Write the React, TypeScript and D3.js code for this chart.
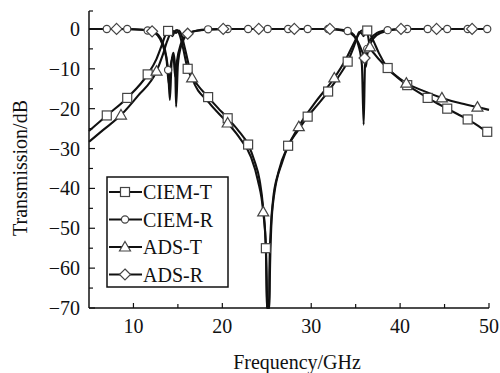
import React from "react";
import * as d3 from "d3";

type P = [number, number];

const xTicks = [10, 20, 30, 40, 50];
const xMinor = [15, 25, 35, 45];
const yTicks = [0, -10, -20, -30, -40, -50, -60, -70];
const yMinor = [-5, -15, -25, -35, -45, -55, -65];

const ciemT: P[] = [
  [5, -25.6], [7.0, -21.7], [9.3, -17.3], [11.6, -11.4], [12.6, -7.5], [13.2, -4], [13.6, -1.5],
  [13.9, -0.5], [14.2, -1.2], [14.4, -1.8], [14.6, -0.8], [14.9, -0.3], [15.2, -1.5], [15.6, -5],
  [16.1, -10], [17.2, -14], [18.4, -17.1], [19.5, -19.8], [20.6, -22.4], [21.8, -25.5], [22.9, -29],
  [23.6, -33], [24.2, -38], [24.6, -45], [24.9, -55], [25.0, -63], [25.05, -70], [25.25, -70],
  [25.3, -60], [25.45, -50], [25.7, -43], [26.3, -36], [27.4, -29.3], [28.5, -25.5], [29.6, -22], [30.8, -18.8],
  [31.9, -15.7], [33.0, -12.2], [34.1, -8.2], [34.7, -5], [35.1, -2.5], [35.4, -0.8], [35.7, -1.2],
  [35.9, -1.8], [36.1, -0.8], [36.3, -0.4], [36.6, -1.2], [37.0, -3], [37.6, -6], [38.6, -9.8],
  [39.7, -12.2], [40.8, -14.1], [42.0, -15.8], [43.1, -17.3], [44.2, -18.7], [45.3, -20],
  [46.5, -21.4], [47.6, -22.7], [48.7, -24.2], [49.8, -25.8], [50, -26],
];
const ciemTMarks: P[] = [
  [7.0, -21.7], [9.3, -17.3], [11.6, -11.4], [13.9, -0.5], [16.1, -10], [18.4, -17.1], [20.6, -22.4],
  [22.9, -29], [24.9, -55], [27.4, -29.3], [29.6, -22], [31.9, -15.7], [34.1, -8.2], [36.3, -0.4],
  [38.6, -9.8], [40.8, -14.1], [43.1, -17.3], [45.3, -20], [47.6, -22.7], [49.8, -25.8],
];

const ciemR: P[] = [
  [5, 0], [7.0, 0], [9.3, 0], [11.0, -0.2], [11.6, -0.4], [12.4, -1], [13.0, -2.5], [13.5, -5.5],
  [13.9, -10.3], [14.1, -17.8], [14.3, -8], [14.5, -6], [14.7, -10], [14.8, -19.5], [15.0, -9],
  [15.4, -4], [16.1, -1.3], [17.0, -0.5], [18.4, -0.1], [20.6, 0], [22.9, 0], [25.1, 0], [27.4, 0],
  [29.6, 0], [31.9, 0], [33.0, -0.1], [34.1, -0.5], [34.8, -1.5], [35.3, -4], [35.7, -9],
  [35.9, -24], [36.05, -9], [36.3, -5], [36.7, -2.5], [37.4, -1], [38.6, -0.3], [40.8, 0],
  [43.1, 0], [45.3, 0], [47.6, 0], [49.8, 0], [50, 0],
];
const ciemRMarks: P[] = [
  [7.0, 0], [9.3, 0], [11.6, -0.4], [13.9, -10.3], [16.1, -1.3], [18.4, -0.1], [20.6, 0], [22.9, 0],
  [25.1, 0], [27.4, 0], [29.6, 0], [31.9, 0], [34.1, -0.5], [36.3, -5], [38.6, -0.3], [40.8, 0],
  [43.1, 0], [45.3, 0], [47.6, 0], [49.8, 0],
];

const adsT: P[] = [
  [5, -28.3], [6.5, -25.5], [8.6, -21.6], [10.5, -16.8], [12.6, -10.6], [13.3, -6.5], [13.8, -3],
  [14.2, -1], [14.5, -0.5], [14.8, -1], [15.1, -0.4], [15.4, -1.5], [15.8, -5], [16.6, -12.3],
  [18.5, -18.5], [20.6, -23.6], [22.0, -27.5], [23.2, -32], [24.0, -38], [24.6, -45.9], [24.9, -55],
  [25.0, -70], [25.3, -70], [25.35, -62], [25.5, -50], [25.8, -42], [26.8, -33], [28.6, -24.5],
  [30.6, -18], [32.6, -12.3], [33.8, -8], [34.7, -4], [35.3, -1.5], [35.7, -0.4], [36.0, -0.8],
  [36.3, -1], [36.6, -4.5], [37.2, -6.5], [38.2, -9], [39.3, -11.3], [40.7, -13.6], [42.7, -15.6],
  [44.7, -17.3], [46.7, -18.6], [48.7, -19.6], [50, -20.3],
];
const adsTMarks: P[] = [
  [8.6, -21.6], [12.6, -10.6], [16.6, -12.3], [20.6, -23.6], [24.6, -45.9], [28.6, -24.5],
  [32.6, -12.3], [36.6, -4.5], [40.7, -13.6], [44.7, -17.3], [48.7, -19.6],
];

const adsR: P[] = [
  [5, 0], [8.1, 0], [11.0, -0.2], [12.1, -0.6], [12.8, -1.5], [13.3, -3.5], [13.7, -7], [14.0, -14],
  [14.2, -9], [14.5, -7], [14.7, -12], [14.9, -8], [15.3, -4], [16.1, -1.2], [17.2, -0.4], [20.1, 0],
  [24.1, 0], [28.1, 0], [32.1, 0], [33.5, -0.4], [34.5, -1.2], [35.2, -3], [35.7, -5.5], [36.0, -7.3],
  [36.15, -9.5], [36.3, -6.5], [36.7, -3.5], [37.4, -1.5], [38.5, -0.5], [40.1, 0], [44.1, 0],
  [48.1, 0], [50, 0],
];
const adsRMarks: P[] = [
  [8.1, 0], [12.1, -0.6], [16.1, -1.2], [20.1, 0], [24.1, 0], [28.1, 0], [32.1, 0], [36.0, -7.3],
  [40.1, 0], [44.1, 0], [48.1, 0],
];

const legendLabels = ["CIEM-T", "CIEM-R", "ADS-T", "ADS-R"];

const FONT = "'Liberation Serif', 'Times New Roman', serif";

function Marker({ kind, x, y }: { kind: string; x: number; y: number }) {
  const st = { fill: "#fff", stroke: "#444", strokeWidth: 1.2 };
  if (kind === "square") return <rect x={x - 4.5} y={y - 4.5} width={9} height={9} {...st} />;
  if (kind === "circle") return <circle cx={x} cy={y} r={3.6} {...st} />;
  if (kind === "triangle")
    return <path d={`M${x},${y - 5.5}L${x + 5.5},${y + 4}L${x - 5.5},${y + 4}Z`} {...st} />;
  return <path d={`M${x},${y - 5.5}L${x + 5.5},${y}L${x},${y + 5.5}L${x - 5.5},${y}Z`} {...st} />;
}

export default function App() {
  const x = d3.scaleLinear().domain([5, 50]).range([89, 489]);
  const y = d3.scaleLinear().domain([-70, 4.5]).range([308, 11]);
  const line = d3
    .line<P>()
    .x((d) => x(d[0]))
    .y((d) => y(d[1]))
    .curve(d3.curveMonotoneX);

  const series = [
    { data: ciemT, marks: ciemTMarks, kind: "square" },
    { data: ciemR, marks: ciemRMarks, kind: "circle" },
    { data: adsT, marks: adsTMarks, kind: "triangle" },
    { data: adsR, marks: adsRMarks, kind: "diamond" },
  ];

  const lx = 107, ly = 177, lw = 121, lh = 110;
  const entryY = [192, 219.5, 247, 274.5];

  return (
    <svg
      width={500}
      height={373}
      style={{ position: "absolute", left: 0, top: 0, background: "#fff" }}
      fontFamily={FONT}
    >
      <rect x={0} y={0} width={500} height={373} fill="#fff" />
      {series.map((s, i) => (
        <path key={i} d={line(s.data) || ""} fill="none" stroke="#111" strokeWidth={2.1} strokeLinejoin="round" />
      ))}
      {series.map((s, i) =>
        s.marks.map((m, j) => <Marker key={`${i}-${j}`} kind={s.kind} x={x(m[0])} y={y(m[1])} />)
      )}
      <line x1={89} x2={89} y1={y(4.5)} y2={y(-70)} stroke="#111" strokeWidth={1.5} />
      <line x1={89} x2={93} y1={y(4.5)} y2={y(4.5)} stroke="#111" strokeWidth={1.2} />
      <line x1={89} x2={489} y1={y(-70)} y2={y(-70)} stroke="#111" strokeWidth={1.5} />
      {yTicks.map((t) => (
        <g key={`yt${t}`}>
          <line x1={89} x2={95} y1={y(t)} y2={y(t)} stroke="#111" strokeWidth={1.2} />
          <text x={80} y={y(t)} textAnchor="end" dominantBaseline="central" fontSize={20} fill="#111">
            {t < 0 ? `\u2212${Math.abs(t)}` : `${t}`}
          </text>
        </g>
      ))}
      {yMinor.map((t) => (
        <line key={`ym${t}`} x1={89} x2={93} y1={y(t)} y2={y(t)} stroke="#111" strokeWidth={1.2} />
      ))}
      {xTicks.map((t) => (
        <g key={`xt${t}`}>
          <line x1={x(t)} x2={x(t)} y1={308} y2={303} stroke="#111" strokeWidth={1.2} />
          <text x={x(t)} y={326} textAnchor="middle" dominantBaseline="central" fontSize={20} fill="#111">
            {t}
          </text>
        </g>
      ))}
      {xMinor.map((t) => (
        <line key={`xm${t}`} x1={x(t)} x2={x(t)} y1={308} y2={304} stroke="#111" strokeWidth={1.2} />
      ))}
      <text x={297} y={362} textAnchor="middle" dominantBaseline="central" fontSize={20} fill="#111">
        Frequency/GHz
      </text>
      <text
        transform={`translate(20,168) rotate(-90)`}
        textAnchor="middle"
        dominantBaseline="central"
        fontSize={20}
        fill="#111"
      >
        Transmission/dB
      </text>
      <rect x={lx} y={ly} width={lw} height={lh} fill="#fff" stroke="#111" strokeWidth={1.5} />
      {series.map((s, i) => (
        <g key={`lg${i}`}>
          <line x1={109} x2={142} y1={entryY[i]} y2={entryY[i]} stroke="#111" strokeWidth={2} />
          <Marker kind={s.kind} x={125} y={entryY[i]} />
          <text x={143} y={entryY[i]} dominantBaseline="central" fontSize={20} fill="#111">
            {legendLabels[i]}
          </text>
        </g>
      ))}
    </svg>
  );
}
